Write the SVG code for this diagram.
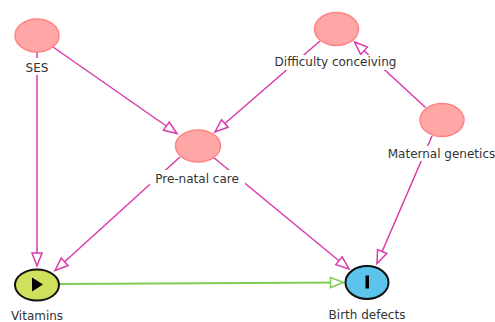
<svg xmlns="http://www.w3.org/2000/svg" width="495" height="322" viewBox="0 0 495 322">
<style>
.e{stroke:#d83ca9;stroke-width:1.5;fill:none;marker-end:url(#am)}
.g{stroke:#7fcc55;stroke-width:1.8;fill:none;marker-end:url(#ag)}
.n{fill:#ffa6a6;stroke:#ff8585;stroke-width:1.5}
.bg{fill:#fff}
.t{font-family:"DejaVu Sans",sans-serif;font-size:12px;fill:#333;text-anchor:middle}
</style>
<defs>
<marker id="am" markerUnits="userSpaceOnUse" markerWidth="20" markerHeight="16" refX="14" refY="6" orient="auto" overflow="visible">
<path d="M1,1 L14,6 L1,11 Z" fill="#fff" stroke="#d83ca9" stroke-width="1.5"/>
</marker>
<marker id="ag" markerUnits="userSpaceOnUse" markerWidth="20" markerHeight="16" refX="14" refY="6" orient="auto" overflow="visible">
<path d="M1,1 L14,6 L1,11 Z" fill="#fff" stroke="#7fcc55" stroke-width="1.5"/>
</marker>
</defs>
<rect width="495" height="322" fill="#fff"/>
<g id="connectors">
<line class="e" x1="53" y1="47" x2="177" y2="133.5"/>
<line class="e" x1="37" y1="52" x2="37" y2="266"/>
<line class="e" x1="320" y1="41" x2="215" y2="132"/>
<line class="e" x1="425.5" y1="107.5" x2="354.5" y2="42"/>
<line class="e" x1="432" y1="136" x2="377" y2="263.5"/>
<line class="e" x1="180" y1="157" x2="55" y2="270.5"/>
<line class="e" x1="213" y1="157" x2="349" y2="269"/>
<line class="g" x1="59" y1="284" x2="343.5" y2="282.5"/>
</g>
<g id="ses">
<ellipse class="n" cx="37" cy="35.5" rx="22" ry="16.5"/>
<rect class="bg" x="23" y="58" width="28" height="17"/>
<text class="t" x="37" y="72">SES</text>
</g>
<g id="difficulty">
<ellipse class="n" cx="336.5" cy="29" rx="22" ry="16.5"/>
<rect class="bg" x="270" y="55" width="131" height="15"/>
<text class="t" x="335.5" y="66">Difficulty conceiving</text>
</g>
<g id="maternal">
<ellipse class="n" cx="442" cy="120" rx="22" ry="16.5"/>
<rect class="bg" x="385" y="146" width="110" height="15"/>
<text class="t" x="441.5" y="157.5">Maternal genetics</text>
</g>
<g id="prenatal">
<ellipse class="n" cx="198" cy="146" rx="22.5" ry="16"/>
<rect class="bg" x="150" y="170" width="95" height="16"/>
<text class="t" x="197" y="182.5">Pre-natal care</text>
</g>
<g id="vitamins">
<ellipse cx="37" cy="285" rx="22" ry="15.5" fill="#d0e05c" stroke="#111" stroke-width="2"/>
<path d="M32,277.5 L43,284.5 L32,291.5 Z" fill="#000"/>
<text class="t" x="37" y="320">Vitamins</text>
</g>
<g id="birth">
<ellipse cx="367" cy="282.5" rx="21.5" ry="16.5" fill="#5cc4ea" stroke="#111" stroke-width="2"/>
<rect x="365.5" y="275.5" width="3.5" height="13" fill="#000"/>
<text class="t" x="367" y="319">Birth defects</text>
</g>
</svg>
